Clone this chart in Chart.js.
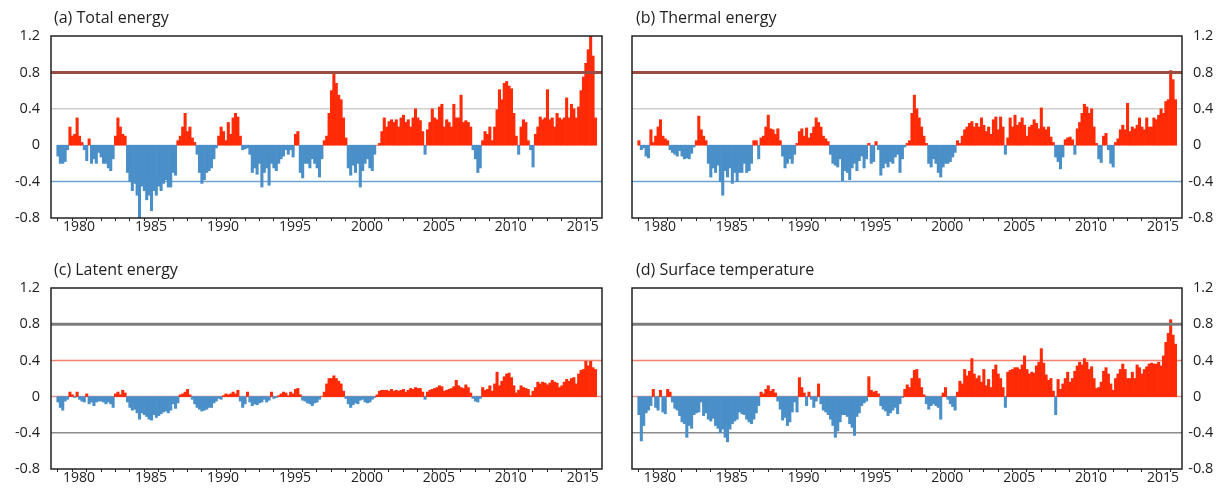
<!DOCTYPE html>
<html>
<head>
<meta charset="utf-8">
<script src="https://cdn.jsdelivr.net/npm/chart.js@4.4.0/dist/chart.umd.min.js"></script>
<style>
  body { margin: 0; background: #fff; width: 1229px; height: 495px; position: relative; overflow: hidden; }
  canvas { position: absolute; }
</style>
</head>
<body>
<canvas id="chartA" width="615" height="248" style="left:0;top:0"></canvas>
<canvas id="chartB" width="614" height="248" style="left:615px;top:0"></canvas>
<canvas id="chartC" width="615" height="247" style="left:0;top:248px"></canvas>
<canvas id="chartD" width="614" height="247" style="left:615px;top:248px"></canvas>
<script>
// bimonthly anomalies, one row per year, starting Jan/Feb 1979
const startYear = 1979;
const perYear = 6;

const totalEnergy = [
  -0.12,-0.2,-0.2,-0.18,-0.05,0.2,
  0.1,0.12,0.3,0.1,0.03,-0.05,
  -0.17,0.07,-0.2,-0.15,-0.2,-0.08,
  -0.13,-0.2,-0.2,-0.25,-0.28,-0.15,
  0.1,0.3,0.2,0.12,0.1,-0.3,
  -0.4,-0.5,-0.42,-0.55,-0.8,-0.45,
  -0.5,-0.6,-0.55,-0.72,-0.5,-0.55,
  -0.45,-0.5,-0.42,-0.38,-0.46,-0.46,
  -0.3,-0.33,0.05,0.1,0.2,0.35,
  0.15,0.2,0.08,0.03,-0.1,-0.3,
  -0.42,-0.38,-0.3,-0.28,-0.25,-0.15,
  -0.03,0.1,0.2,0.15,0.05,0.25,
  0.12,0.3,0.35,0.31,0.1,-0.05,
  -0.04,-0.03,-0.1,-0.3,-0.25,-0.32,
  -0.2,-0.46,-0.3,-0.25,-0.44,-0.2,
  -0.25,-0.28,-0.2,-0.15,-0.12,-0.05,
  -0.1,-0.05,-0.13,0.12,0.15,-0.3,
  -0.36,-0.2,-0.2,-0.25,-0.15,-0.2,
  -0.25,-0.35,-0.15,0.05,0.1,0.35,
  0.6,0.78,0.68,0.55,0.5,0.3,
  0.08,-0.25,-0.33,-0.22,-0.3,-0.2,
  -0.46,-0.28,-0.2,-0.15,-0.25,-0.28,
  -0.1,0.0,0.02,0.15,0.3,0.2,
  0.26,0.28,0.25,0.28,0.2,0.3,
  0.33,0.25,0.28,0.2,0.3,0.4,
  0.3,0.27,0.15,-0.1,0.17,0.25,
  0.4,0.3,0.28,0.42,0.45,0.2,
  0.28,0.25,0.2,0.45,0.3,0.3,
  0.55,0.25,0.27,0.25,0.2,-0.05,
  -0.15,-0.3,-0.25,0.05,0.15,0.12,
  0.2,0.05,0.2,0.39,0.61,0.5,
  0.68,0.7,0.65,0.62,0.35,0.1,
  -0.1,0.2,0.28,0.25,0.05,-0.05,
  -0.24,0.12,0.2,0.31,0.28,0.3,
  0.61,0.28,0.3,0.2,0.35,0.3,
  0.28,0.3,0.52,0.3,0.45,0.4,
  0.3,0.42,0.6,0.75,0.9,1.05,
  1.2,0.98,0.3
];

const thermalEnergy = [
  0.05,-0.05,-0.03,-0.12,-0.14,0.17,
  0.03,0.1,0.2,0.28,0.1,0.07,
  0.05,-0.05,-0.08,-0.1,-0.12,-0.06,
  -0.12,-0.15,-0.14,-0.15,-0.09,-0.02,
  0.05,0.32,0.17,0.1,0.05,-0.2,
  -0.35,-0.25,-0.3,-0.22,-0.4,-0.55,
  -0.28,-0.35,-0.25,-0.42,-0.3,-0.4,
  -0.3,-0.3,-0.2,-0.3,-0.28,-0.2,
  0.05,0.05,-0.15,0.08,0.1,0.2,
  0.33,0.18,0.17,0.12,0.18,0.05,
  -0.12,-0.25,-0.2,-0.15,-0.2,-0.1,
  0.02,0.15,0.18,0.1,0.19,0.08,
  0.13,0.2,0.3,0.25,0.2,0.1,
  0.07,0.04,-0.1,-0.2,-0.22,-0.24,
  -0.15,-0.39,-0.28,-0.3,-0.38,-0.25,
  -0.2,-0.28,-0.17,-0.12,-0.25,-0.15,
  0.02,-0.2,-0.18,0.04,-0.05,-0.33,
  -0.25,-0.2,-0.24,-0.18,-0.2,-0.13,
  -0.1,-0.3,-0.15,-0.02,0.02,0.05,
  0.35,0.55,0.4,0.3,0.2,0.1,
  0.02,-0.2,-0.24,-0.15,-0.2,-0.3,
  -0.35,-0.24,-0.2,-0.2,-0.18,-0.13,
  -0.08,0.05,0.02,0.1,0.17,0.2,
  0.24,0.26,0.2,0.24,0.2,0.3,
  0.22,0.15,0.2,0.12,0.28,0.31,
  0.17,0.31,0.2,-0.1,0.08,0.3,
  0.2,0.33,0.22,0.25,0.3,0.22,
  0.1,0.2,0.22,0.28,0.24,0.18,
  0.41,0.2,0.17,0.2,0.09,0.03,
  -0.13,-0.18,-0.26,-0.13,0.06,0.08,
  0.09,0.06,-0.1,0.18,0.25,0.35,
  0.45,0.42,0.35,0.4,0.2,0.02,
  -0.15,-0.19,0.1,0.13,-0.05,-0.2,
  -0.24,0.03,0.07,0.17,0.22,0.17,
  0.46,0.15,0.2,0.18,0.22,0.3,
  0.2,0.17,0.3,0.2,0.2,0.3,
  0.28,0.33,0.4,0.35,0.48,0.5,
  0.82,0.72,0.5
];

const latentEnergy = [
  -0.06,-0.12,-0.15,-0.05,-0.03,0.05,
  0.02,-0.01,0.05,-0.03,-0.05,-0.06,
  0.03,-0.08,-0.06,-0.1,-0.06,-0.05,
  -0.05,-0.06,-0.08,-0.06,-0.08,-0.12,
  0.03,0.05,0.02,0.07,0.04,-0.06,
  -0.12,-0.15,-0.14,-0.18,-0.25,-0.18,
  -0.2,-0.22,-0.25,-0.26,-0.2,-0.23,
  -0.21,-0.19,-0.17,-0.16,-0.18,-0.15,
  -0.08,-0.13,-0.07,0.02,0.03,0.05,
  0.08,0.02,-0.03,-0.08,-0.12,-0.14,
  -0.16,-0.15,-0.14,-0.12,-0.12,-0.07,
  -0.05,-0.02,-0.03,0.01,0.03,0.02,
  0.03,0.05,0.03,0.07,-0.05,-0.12,
  -0.08,0.05,-0.06,-0.1,-0.08,-0.09,
  -0.07,-0.06,-0.03,-0.06,-0.04,0.05,
  -0.02,-0.01,0.01,0.03,0.05,0.04,
  0.01,0.05,0.03,0.08,0.09,0.02,
  -0.04,-0.05,-0.07,-0.08,-0.1,-0.07,
  -0.06,-0.03,0.0,0.05,0.14,0.2,
  0.2,0.23,0.2,0.17,0.14,0.06,
  -0.02,-0.08,-0.12,-0.09,-0.07,-0.08,
  -0.04,-0.03,-0.06,-0.07,-0.06,-0.03,
  -0.01,0.02,0.06,0.07,0.07,0.07,
  0.06,0.08,0.06,0.07,0.06,0.07,
  0.08,0.05,0.07,0.09,0.08,0.1,
  0.09,0.09,0.05,-0.03,0.05,0.07,
  0.08,0.09,0.1,0.12,0.11,0.06,
  0.07,0.08,0.09,0.11,0.18,0.12,
  0.1,0.09,0.13,0.1,0.04,-0.02,
  -0.05,-0.06,-0.02,0.1,0.07,0.08,
  0.12,0.06,0.14,0.27,0.12,0.17,
  0.22,0.25,0.26,0.21,0.12,0.04,
  0.07,0.12,0.1,0.09,0.08,0.01,
  0.06,0.1,0.16,0.14,0.16,0.15,
  0.13,0.15,0.18,0.16,0.15,0.1,
  0.12,0.16,0.19,0.17,0.2,0.21,
  0.14,0.25,0.29,0.3,0.39,0.34,
  0.39,0.32,0.3
];

const surfaceTemp = [
  -0.2,-0.49,-0.32,-0.18,-0.15,-0.1,
  0.08,-0.12,-0.15,0.07,-0.17,-0.19,
  0.08,0.05,-0.06,-0.13,-0.15,-0.21,
  -0.28,-0.3,-0.45,-0.32,-0.35,-0.2,
  -0.18,-0.17,-0.06,-0.21,-0.18,-0.25,
  -0.27,-0.24,-0.32,-0.35,-0.4,-0.36,
  -0.45,-0.5,-0.36,-0.3,-0.27,-0.25,
  -0.17,-0.19,-0.2,-0.25,-0.28,-0.3,
  -0.25,-0.18,-0.1,0.05,0.03,0.08,
  0.12,0.06,0.08,0.04,-0.05,-0.14,
  -0.26,-0.23,-0.32,-0.28,-0.17,-0.06,
  -0.17,0.21,0.1,0.04,-0.1,0.05,
  -0.03,-0.12,-0.05,0.14,-0.08,-0.15,
  -0.17,-0.2,-0.25,-0.32,-0.45,-0.38,
  -0.28,-0.2,-0.2,-0.22,-0.3,-0.34,
  -0.43,-0.22,-0.18,-0.1,-0.07,-0.05,
  0.22,0.07,0.05,0.06,0.03,-0.1,
  -0.14,-0.16,-0.21,-0.18,-0.15,-0.12,
  -0.19,-0.08,-0.01,0.08,0.13,0.1,
  0.2,0.29,0.3,0.2,0.1,0.02,
  -0.08,-0.14,-0.1,-0.08,-0.1,-0.12,
  -0.25,0.04,0.1,-0.03,-0.08,-0.11,
  -0.15,0.05,0.17,0.14,0.3,0.23,
  0.28,0.42,0.25,0.2,0.23,0.16,
  0.3,0.12,0.19,0.1,0.3,0.35,
  0.25,0.2,0.1,-0.12,0.27,0.29,
  0.3,0.32,0.32,0.3,0.35,0.45,
  0.3,0.25,0.27,0.26,0.34,0.38,
  0.53,0.37,0.24,0.18,0.2,0.06,
  -0.2,0.19,0.08,0.14,0.2,0.27,
  0.16,0.2,0.28,0.34,0.38,0.35,
  0.42,0.38,0.3,0.33,0.2,0.09,
  0.1,0.16,0.28,0.32,0.25,0.14,
  0.07,0.2,0.25,0.3,0.36,0.3,
  0.2,0.2,0.27,0.2,0.35,0.32,
  0.25,0.3,0.33,0.36,0.37,0.36,
  0.36,0.38,0.34,0.45,0.6,0.7,
  0.85,0.68,0.58
];

const yTicks = [-0.8, -0.4, 0, 0.4, 0.8, 1.2];
const xLabelYears = [1980, 1985, 1990, 1995, 2000, 2005, 2010, 2015];
const titles = ['(a) Total energy', '(b) Thermal energy', '(c) Latent energy', '(d) Surface temperature'];

const RED = '#ff2a06';
const BLUE = '#4a8fc8';
const FONT = '"Open Sans", "Noto Sans", sans-serif';

// reference lines: top panels use a brown 0.8 line, bottom panels a grey one
const topLines = [
  { value: 0.4, color: '#cfcfcf', width: 1.5 },
  { value: -0.4, color: '#6ea3d3', width: 1.5 },
  { value: 0.8, color: '#9a4c40', width: 3, front: true }
];
const bottomLines = [
  { value: 0.4, color: '#f4806f', width: 1.5 },
  { value: 0, color: '#f0948c', width: 1.5 },
  { value: -0.4, color: '#8c8c8c', width: 1.5 },
  { value: 0.8, color: '#7c7c7c', width: 3, front: true }
];

function hline(ctx, a, y, l) {
  ctx.strokeStyle = l.color;
  ctx.lineWidth = l.width;
  ctx.beginPath();
  ctx.moveTo(a.left, y);
  ctx.lineTo(a.right, y);
  ctx.stroke();
}

const panelDecor = {
  id: 'panelDecor',
  beforeDatasetsDraw(chart, args, opts) {
    const { ctx, chartArea: a, scales: { y } } = chart;
    ctx.save();
    opts.lines.filter(l => !l.front).forEach(l => hline(ctx, a, y.getPixelForValue(l.value), l));
    ctx.restore();
  },
  afterDatasetsDraw(chart, args, opts) {
    const { ctx, chartArea: a, scales: { x, y } } = chart;
    ctx.save();
    opts.lines.filter(l => l.front).forEach(l => hline(ctx, a, y.getPixelForValue(l.value), l));

    // frame
    ctx.strokeStyle = '#222';
    ctx.lineWidth = 1.5;
    ctx.strokeRect(a.left, a.top, a.right - a.left, a.bottom - a.top);

    // year ticks and labels
    ctx.lineWidth = 1;
    ctx.strokeStyle = '#222';
    for (let yr = 1979; yr <= 2016; yr++) {
      const px = Math.round(x.getPixelForValue(yr)) + 0.5;
      ctx.beginPath();
      ctx.moveTo(px, a.bottom);
      ctx.lineTo(px, a.bottom + 3);
      ctx.stroke();
    }
    ctx.fillStyle = '#222';
    ctx.font = '14px ' + FONT;
    ctx.textAlign = 'center';
    ctx.textBaseline = 'top';
    xLabelYears.forEach(yr => ctx.fillText(String(yr), x.getPixelForValue(yr + 0.5), a.bottom + 2));

    // value labels
    ctx.font = '14.5px ' + FONT;
    ctx.textBaseline = 'middle';
    yTicks.forEach(v => {
      const py = y.getPixelForValue(v);
      const txt = v === 0 ? '0' : Math.abs(v).toFixed(1);
      if (opts.side === 'left') {
        ctx.textAlign = 'right';
        ctx.fillText((v < 0 ? '-' : '') + txt, a.left - 11, py);
      } else {
        ctx.textAlign = 'left';
        ctx.fillText(txt, a.right + 11, py);
        if (v < 0) {
          ctx.textAlign = 'right';
          ctx.fillText('-', a.right + 11, py);
        }
      }
    });

    // panel title
    ctx.font = '16px ' + FONT;
    ctx.textAlign = 'left';
    ctx.textBaseline = 'alphabetic';
    ctx.fillText(opts.title, a.left + opts.titleShift, a.top - 13);
    ctx.restore();
  }
};

function makePanel(id, values, title, side, lines, box) {
  const points = values.map((v, i) => ({ x: startYear + (i + 0.25) / perYear, y: v }));
  return new Chart(document.getElementById(id), {
    type: 'bar',
    data: {
      datasets: [{
        data: points,
        backgroundColor: c => (c.raw && c.raw.y < 0 ? BLUE : RED),
        borderWidth: 0,
        barPercentage: 1,
        categoryPercentage: 1
      }]
    },
    options: {
      responsive: false,
      animation: false,
      layout: { padding: box },
      plugins: {
        legend: { display: false },
        tooltip: { enabled: false },
        panelDecor: { title, side, lines, titleShift: side === 'left' ? 3 : 4 }
      },
      scales: {
        x: { type: 'linear', display: false, min: 1978.56, max: 2016.83, offset: false },
        y: { display: false, min: -0.8, max: 1.2 }
      }
    },
    plugins: [panelDecor]
  });
}

makePanel('chartA', totalEnergy, titles[0], 'left', topLines, { left: 51, top: 36, right: 13, bottom: 30 });
makePanel('chartB', thermalEnergy, titles[1], 'right', topLines, { left: 17, top: 36, right: 47, bottom: 30 });
makePanel('chartC', latentEnergy, titles[2], 'left', bottomLines, { left: 51, top: 40, right: 13, bottom: 26 });
makePanel('chartD', surfaceTemp, titles[3], 'right', bottomLines, { left: 17, top: 40, right: 47, bottom: 26 });
</script>
</body>
</html>
